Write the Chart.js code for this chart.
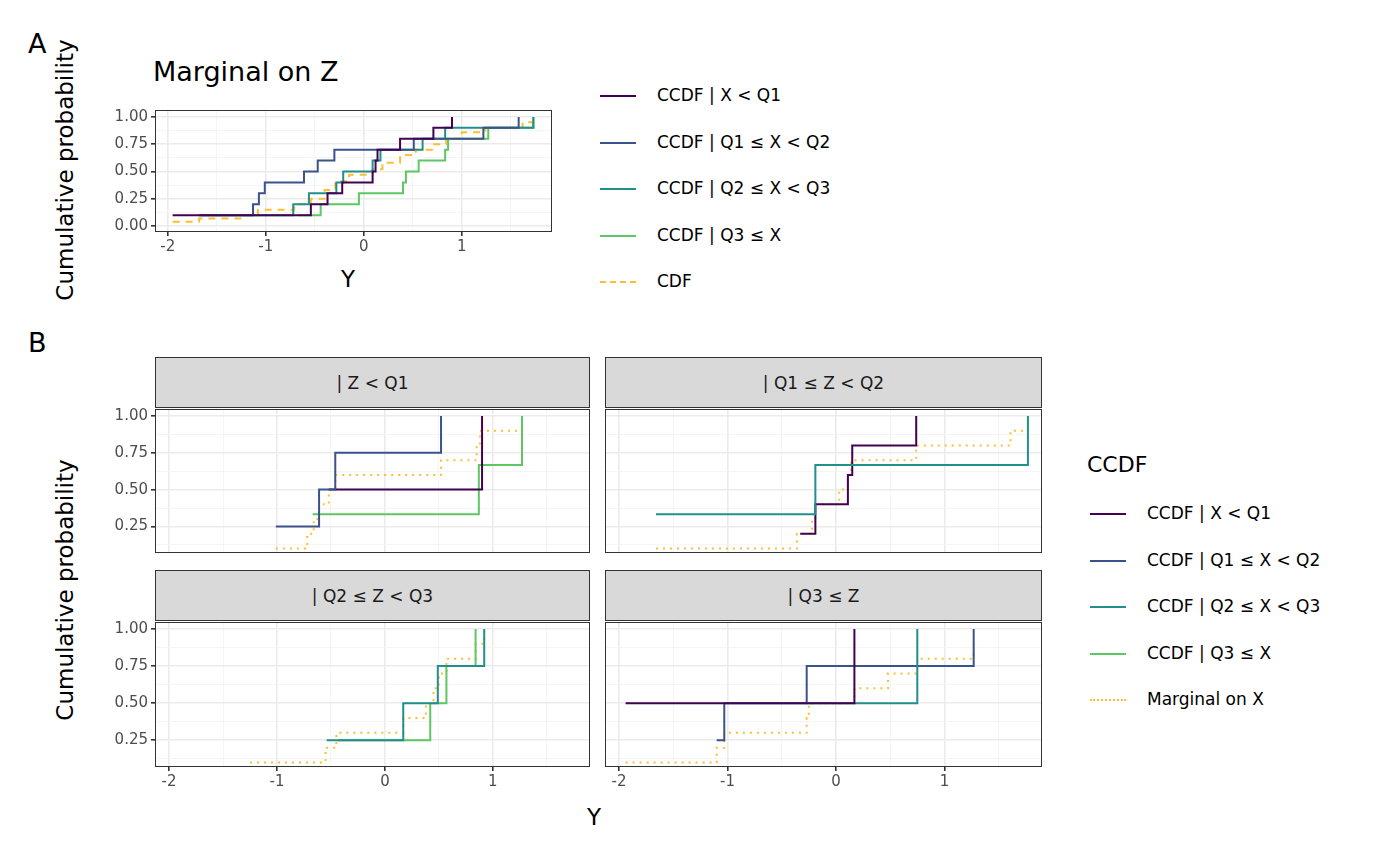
<!DOCTYPE html>
<html>
<head>
<meta charset="utf-8">
<script src="https://cdn.jsdelivr.net/npm/chart.js@4"></script>
<style>
  body { margin: 0; width: 1400px; height: 866px; background: #fff; font-family: "DejaVu Sans", sans-serif; position: relative; overflow: hidden; }
  .abs { position: absolute; }
  .t { position: absolute; color: #000; white-space: nowrap; }
  .strip { position: absolute; background: #d9d9d9; border: 1px solid #333; box-sizing: border-box; font-size: 17px; color: #1a1a1a; display: flex; align-items: center; justify-content: center; }
  .ylab { position: absolute; transform: translate(-50%, -50%) rotate(-90deg); font-size: 23px; white-space: nowrap; }
  .leg { position: absolute; font-size: 17px; color: #000; white-space: nowrap; }
  .leg span { display: inline-block; width: 36px; vertical-align: middle; margin-right: 21px; }
</style>
</head>
<body>
<script>
// colours
const cPurple = '#440154', cBlue = '#3B528B', cTeal = '#21908C', cGreen = '#5DC863', cOrange = '#FDBF2F';

// Panel A: marginal on Z
const aPurpleX = [-1.95, -0.54, -0.37, -0.22, 0.09, 0.12, 0.14, 0.37, 0.71, 0.90];
const aPurpleY = [0.1, 0.2, 0.3, 0.4, 0.5, 0.6, 0.7, 0.8, 0.9, 1.0];
const aBlueX = [-1.68, -1.13, -1.07, -1.01, -0.61, -0.47, -0.30, 0.51, 1.22, 1.58];
const aBlueY = [0.1, 0.2, 0.3, 0.4, 0.5, 0.6, 0.7, 0.8, 0.9, 1.0];
const aTealX = [-1.68, -0.72, -0.56, -0.28, -0.21, 0.09, 0.17, 0.60, 0.83, 1.73];
const aTealY = [0.1, 0.2, 0.3, 0.4, 0.5, 0.6, 0.7, 0.8, 0.9, 1.0];
const aGreenX = [-0.67, -0.44, -0.05, 0.40, 0.43, 0.56, 0.83, 0.86, 1.27, 1.73];
const aGreenY = [0.1, 0.2, 0.3, 0.4, 0.5, 0.6, 0.7, 0.8, 0.9, 1.0];
const aCdfX = [-1.95, -1.68, -1.22, -1.08, -0.71, -0.54, -0.40, -0.29, -0.15, 0.09, 0.19, 0.37, 0.53, 0.70, 0.84, 1.00, 1.24, 1.62, 1.73];
const aCdfY = [0.04, 0.07, 0.1, 0.15, 0.2, 0.25, 0.33, 0.41, 0.47, 0.52, 0.58, 0.65, 0.7, 0.75, 0.8, 0.86, 0.9, 0.95, 0.95];

// Panel B facets
const z1BlueX = [-1.01, -0.61, -0.46, 0.52];   const z1BlueY = [0.25, 0.5, 0.75, 1.0];
const z1PurpleX = [-0.52, 0.90];               const z1PurpleY = [0.5, 1.0];
const z1GreenX = [-0.67, 0.87, 1.27];          const z1GreenY = [0.333, 0.667, 1.0];
const z1MargX = [-1.01, -0.72, -0.66, -0.61, -0.52, -0.46, 0.52, 0.85, 0.88, 1.27];
const z1MargY = [0.1, 0.2, 0.3, 0.4, 0.5, 0.6, 0.7, 0.8, 0.9, 1.0];

const z2TealX = [-1.66, -0.19, 1.77];          const z2TealY = [0.333, 0.667, 1.0];
const z2PurpleX = [-0.33, -0.19, 0.11, 0.15, 0.74]; const z2PurpleY = [0.2, 0.4, 0.6, 0.8, 1.0];
const z2MargX = [-1.66, -0.36, -0.22, -0.19, 0.03, 0.11, 0.14, 0.74, 1.61, 1.77];
const z2MargY = [0.1, 0.2, 0.3, 0.4, 0.5, 0.6, 0.7, 0.8, 0.9, 1.0];

const z3TealX = [-0.54, 0.17, 0.49, 0.92];     const z3TealY = [0.25, 0.5, 0.75, 1.0];
const z3GreenX = [-0.44, 0.42, 0.57, 0.84];    const z3GreenY = [0.25, 0.5, 0.75, 1.0];
const z3MargX = [-1.25, -0.55, -0.45, 0.17, 0.38, 0.45, 0.50, 0.57, 0.84, 0.92];
const z3MargY = [0.1, 0.2, 0.3, 0.4, 0.5, 0.6, 0.7, 0.8, 0.9, 1.0];

const z4PurpleX = [-1.94, 0.17];               const z4PurpleY = [0.5, 1.0];
const z4BlueX = [-1.10, -1.03, -0.27, 1.27];   const z4BlueY = [0.25, 0.5, 0.75, 1.0];
const z4TealX = [-0.27, 0.75];                 const z4TealY = [0.5, 1.0];
const z4MargX = [-1.94, -1.10, -1.03, -0.27, -0.25, 0.17, 0.48, 0.75, 1.27];
const z4MargY = [0.1, 0.2, 0.3, 0.4, 0.5, 0.6, 0.7, 0.8, 0.85];

const xTicks = [-2, -1, 0, 1];
const aYTicks = [0, 0.25, 0.5, 0.75, 1];
const bYTicks = [0.25, 0.5, 0.75, 1];

function pts(xs, ys) { return xs.map((x, i) => ({ x: x, y: ys[i] })); }
function ds(xs, ys, color, dash, w) {
  return { data: pts(xs, ys), borderColor: color, borderWidth: w || 2, stepped: 'before', pointRadius: 0, fill: false, borderDash: dash || [] };
}

const frame = {
  id: 'frame',
  afterDraw(chart) {
    const a = chart.chartArea, c = chart.ctx;
    c.save(); c.strokeStyle = '#333'; c.lineWidth = 1;
    c.strokeRect(a.left + 0.5, a.top + 0.5, a.right - a.left - 1, a.bottom - a.top - 1);
    c.restore();
  }
};

function isIn(v, list) { return list.some(t => Math.abs(t - v) < 1e-6); }

const YW = 55, XH = 22, PADT = 10;

// plot area given as left/top/width/height of the panel itself
function makeChart(pl, pt, pw, ph, datasets, o) {
  const left = pl - YW, top = pt - PADT, w = pw + YW, h = ph + PADT + XH;
  const wrap = document.createElement('div');
  wrap.className = 'abs';
  wrap.style.left = left + 'px'; wrap.style.top = top + 'px';
  wrap.style.width = w + 'px'; wrap.style.height = h + 'px';
  const cv = document.createElement('canvas');
  wrap.appendChild(cv);
  document.body.appendChild(wrap);
  const clear = 'rgba(0,0,0,0)';
  new Chart(cv, {
    type: 'line',
    data: { datasets: datasets },
    options: {
      responsive: true, maintainAspectRatio: false, animation: false,
      layout: { padding: 0 },
      plugins: { legend: { display: false }, tooltip: { enabled: false } },
      scales: {
        x: {
          type: 'linear', min: o.xmin, max: o.xmax,
          afterBuildTicks: s => { s.ticks = []; for (let v = -2; v <= 1.5; v += 0.5) s.ticks.push({ value: v }); },
          afterFit: s => { s.height = XH; },
          border: { display: false },
          grid: {
            color: c => isIn(c.tick.value, xTicks) ? '#ebebeb' : '#f3f3f3',
            lineWidth: c => isIn(c.tick.value, xTicks) ? 1.6 : 0.8,
            tickLength: 4, tickColor: c => isIn(c.tick.value, xTicks) && o.showX ? '#333' : clear
          },
          ticks: {
            color: o.showX ? '#4d4d4d' : clear, font: { size: 15, family: 'DejaVu Sans' }, padding: 2, maxRotation: 0, autoSkip: false,
            callback: v => isIn(v, xTicks) ? String(v) : ''
          }
        },
        y: {
          min: o.ymin, max: o.ymax,
          afterBuildTicks: s => { s.ticks = o.grid.map(v => ({ value: v })); },
          afterFit: s => { s.width = YW; },
          border: { display: false },
          grid: {
            color: c => isIn(c.tick.value, o.yTicks) ? '#ebebeb' : '#f3f3f3',
            lineWidth: c => isIn(c.tick.value, o.yTicks) ? 1.6 : 0.8,
            tickLength: 4, tickColor: c => isIn(c.tick.value, o.yTicks) && o.showY ? '#333' : clear
          },
          ticks: {
            color: o.showY ? '#4d4d4d' : clear, font: { size: 15, family: 'DejaVu Sans' }, padding: 3, autoSkip: false,
            callback: v => isIn(v, o.yTicks) ? v.toFixed(2) : ''
          }
        }
      }
    },
    plugins: [frame]
  });
}

const aGrid = [0, 0.125, 0.25, 0.375, 0.5, 0.625, 0.75, 0.875, 1];
const bGrid = [0.125, 0.25, 0.375, 0.5, 0.625, 0.75, 0.875, 1];
const optsA = { xmin: -2.13, xmax: 1.92, ymin: -0.054, ymax: 1.063, showY: true, showX: true, yTicks: aYTicks, grid: aGrid };
const bx = { xmin: -2.13, xmax: 1.90, ymin: 0.07, ymax: 1.047, yTicks: bYTicks, grid: bGrid };

makeChart(155, 108, 397, 124, [
  ds(aPurpleX, aPurpleY, cPurple), ds(aBlueX, aBlueY, cBlue), ds(aTealX, aTealY, cTeal),
  ds(aGreenX, aGreenY, cGreen), ds(aCdfX, aCdfY, cOrange, [7, 6])
], optsA);

const dot = [2, 5];
makeChart(155, 407, 435, 146, [
  ds(z1BlueX, z1BlueY, cBlue), ds(z1PurpleX, z1PurpleY, cPurple), ds(z1GreenX, z1GreenY, cGreen), ds(z1MargX, z1MargY, cOrange, dot)
], Object.assign({}, bx, { showY: true, showX: false }));
makeChart(605, 407, 437, 146, [
  ds(z2TealX, z2TealY, cTeal), ds(z2PurpleX, z2PurpleY, cPurple), ds(z2MargX, z2MargY, cOrange, dot)
], Object.assign({}, bx, { showY: false, showX: false }));
makeChart(155, 620, 435, 147, [
  ds(z3TealX, z3TealY, cTeal), ds(z3GreenX, z3GreenY, cGreen), ds(z3MargX, z3MargY, cOrange, dot)
], Object.assign({}, bx, { showY: true, showX: true }));
makeChart(605, 620, 437, 147, [
  ds(z4PurpleX, z4PurpleY, cPurple), ds(z4TealX, z4TealY, cTeal), ds(z4BlueX, z4BlueY, cBlue), ds(z4MargX, z4MargY, cOrange, dot)
], Object.assign({}, bx, { showY: false, showX: true }));

function text(html, x, y, size) {
  const d = document.createElement('div');
  d.className = 't'; d.innerHTML = html;
  d.style.left = x + 'px'; d.style.top = y + 'px'; d.style.fontSize = size + 'px';
  document.body.appendChild(d);
}
text('A', 28, 28, 27);
text('B', 28, 327, 27);
text('Marginal on Z', 153, 56, 27);
text('Y', 341, 266, 23);
text('Y', 587, 804, 23);
text('CCDF', 1087, 452, 22);

function ylab(s, cx, cy) {
  const d = document.createElement('div');
  d.className = 'ylab'; d.textContent = s;
  d.style.left = cx + 'px'; d.style.top = cy + 'px';
  document.body.appendChild(d);
}
ylab('Cumulative probability', 65, 170);
ylab('Cumulative probability', 65, 590);

function strip(s, left, top, w) {
  const d = document.createElement('div');
  d.className = 'strip'; d.textContent = s;
  d.style.left = left + 'px'; d.style.top = top + 'px'; d.style.width = w + 'px'; d.style.height = '51px';
  document.body.appendChild(d);
}
strip('| Z < Q1', 155, 357, 435);
strip('| Q1 ≤ Z < Q2', 605, 357, 437);
strip('| Q2 ≤ Z < Q3', 155, 570, 435);
strip('| Q3 ≤ Z', 605, 570, 437);

const legA = ['CCDF | X < Q1', 'CCDF | Q1 ≤ X < Q2', 'CCDF | Q2 ≤ X < Q3', 'CCDF | Q3 ≤ X', 'CDF'];
const legB = ['CCDF | X < Q1', 'CCDF | Q1 ≤ X < Q2', 'CCDF | Q2 ≤ X < Q3', 'CCDF | Q3 ≤ X', 'Marginal on X'];
const legColors = [cPurple, cBlue, cTeal, cGreen, cOrange];
function legend(labels, x, y0, step, lastStyle) {
  labels.forEach((l, i) => {
    const d = document.createElement('div');
    d.className = 'leg';
    const style = i === 4 ? lastStyle : 'solid';
    d.innerHTML = '<span style="border-top:2px ' + style + ' ' + legColors[i] + '"></span>' + l;
    d.style.left = x + 'px'; d.style.top = (y0 + i * step - 11) + 'px';
    document.body.appendChild(d);
  });
}
legend(legA, 600, 96, 46.5, 'dashed');
legend(legB, 1090, 514, 46.5, 'dotted');
</script>
</body>
</html>
